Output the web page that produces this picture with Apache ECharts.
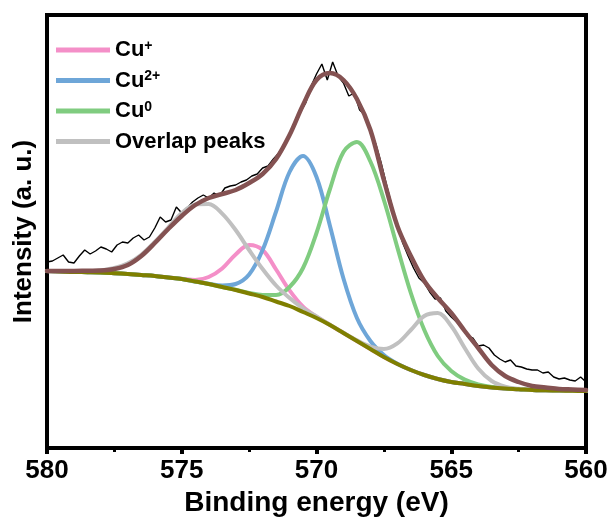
<!DOCTYPE html>
<html>
<head>
<meta charset="utf-8">
<script src="https://cdn.jsdelivr.net/npm/echarts@6/dist/echarts.min.js"></script>
<style>
html,body{margin:0;padding:0;background:#fff;}
#chart{width:612px;height:522px;}
</style>
</head>
<body>
<div id="chart"></div>
<script>
// Cu 2p3/2 region: fitted components on a 0.5 eV grid
const fitEnergy = [580,579.5,579,578.5,578,577.5,577,576.5,576,575.5,575,574.5,574,573.5,573,572.5,572,571.5,571,570.5,570,569.5,569,568.5,568,567.5,567,566.5,566,565.5,565,564.5,564,563.5,563,562.5,562,561.5,561,560.5,560];

const background = [177,176.5,176,175.8,175.5,174.8,174,173,172,170.5,169,166.5,164,161,158,154.5,151,146.5,142,136,130,123,115,107,99,91,84,78,73,69,66,64,62,60.5,59.5,58.8,58,57.7,57.5,57.2,57];

const cuPlus = [177,176.5,176,175.8,175.5,174.8,174,173,172,170.5,169.3,168,171,179.5,193.6,203,198,178.5,157.6,141.3,131.3,123,115,107,99,91,84,78,73,69,66,64,62,60.5,59.5,58.8,58,57.7,57.5,57.2,57];

const cu2Plus = [177,176.5,176,175.8,175.5,174.8,174,173,172,170.5,169,166.5,164.3,162.5,164,173.5,198,236.5,276,292,271,222,169.5,130,107,93,84.2,78,73,69,66,64,62,60.5,59.5,58.8,58,57.7,57.5,57.2,57];

const cuZero = [177,176.5,176,175.8,175.5,174.8,174,173,172,170.5,169,166.5,164,161,158.2,155,153,153,161,180,215,259,296,306,286.5,248,200.6,155,118,92,77,68.4,63.6,61,59.8,58.8,58,57.7,57.5,57.2,57];

const overlapPeaks = [177,176.5,176.5,176.6,177.7,180,184.8,193.3,206,220.5,235,243.5,244,234.4,218,198,179,162.5,150,139.7,131.5,123.3,115.2,107.6,101.4,99,104.6,118,132,135,122,100,79.4,67,61.3,59.2,58,57.7,57.5,57.2,57];

const envelope = [177,177,177,177.3,177.5,179,183,192,205,219,232,243,250,254,258,265,274,289,313,343,368,375,368,349,318,268,222,192,167,150,135,117,100,83,72,66,62,60.5,59,58.5,58];

// measured spectrum, 0.2 eV steps from 580 to 560 eV
const rawEnergy = [];
for (let i = 0; i <= 100; i++) rawEnergy.push(+(580 - i * 0.2).toFixed(1));
const rawCounts = [186,187,190,193,186,185,192,198,194,197,201,199,196,203,206,205,210,213,208,211,220,231,226,228,241,235,240,246,250,253,250,255,252,260,262,263,266,268,272,274,280,282,289,295,303,312,325,336,345,362,374,384,368,386,372,365,352,355,338,333,318,304,285,263,242,222,205,192,180,170,165,156,149,150,137,131,126,120,112,110,102,103,100,93,89,86,88,82,81,79,78,78,75,76,71,69,70,68,67,71,66];

const xTicks = [580,575,570,565,560];

const pair = (xs, ys) => xs.map((x, i) => [x, ys[i]]);

const FONT = 'Liberation Sans, Arial, sans-serif';

const chart = echarts.init(document.getElementById('chart'), null, {renderer: 'canvas'});

function curve(name, data, color, width, z) {
  return {
    name, type: 'line', data, smooth: 0.35, showSymbol: false, symbol: 'none',
    lineStyle: {color, width, cap: 'round', join: 'round'}, itemStyle: {color},
    z, silent: true, animation: false
  };
}

chart.setOption({
  animation: false,
  grid: {left: 47, right: 26, top: 15, bottom: 74, show: true, borderColor: '#000', borderWidth: 4},
  legend: {
    orient: 'vertical', left: 56, top: 39, padding: 0,
    itemWidth: 54, itemHeight: 5, itemGap: 8.5, icon: 'rect',
    data: ['Cu+', 'Cu2+', 'Cu0', 'Overlap peaks'],
    formatter: function (n) {
      if (n === 'Cu+') return 'Cu{s|+}';
      if (n === 'Cu2+') return 'Cu{s|2+}';
      if (n === 'Cu0') return 'Cu{s|0}';
      return n;
    },
    textStyle: {
      fontFamily: FONT, fontWeight: 'bold', fontSize: 22, color: '#000', lineHeight: 22,
      rich: {s: {fontFamily: FONT, fontWeight: 'bold', fontSize: 14, lineHeight: 12, verticalAlign: 'top', color: '#000'}}
    }
  },
  xAxis: {
    type: 'value', min: 560, max: 580, interval: 5, inverse: true,
    name: 'Binding energy (eV)', nameLocation: 'middle', nameGap: 33,
    nameTextStyle: {fontFamily: FONT, fontWeight: 'bold', fontSize: 28, color: '#000'},
    axisLine: {show: true, onZero: false, lineStyle: {color: '#000', width: 4}},
    axisTick: {show: true, inside: false, length: 6, lineStyle: {color: '#000', width: 4}},
    minorTick: {show: true, splitNumber: 2, length: 4, lineStyle: {color: '#000', width: 3}},
    splitLine: {show: false},
    axisLabel: {
      margin: 10, fontFamily: FONT, fontWeight: 'bold', fontSize: 26, color: '#000',
      customValues: xTicks, formatter: v => String(v)
    }
  },
  yAxis: {
    type: 'value', min: 0, max: 433,
    name: 'Intensity (a. u.)', nameLocation: 'middle', nameGap: 10, nameRotate: 90,
    nameTextStyle: {fontFamily: FONT, fontWeight: 'bold', fontSize: 26, color: '#000'},
    axisLine: {show: true, lineStyle: {color: '#000', width: 4}},
    axisTick: {show: false}, axisLabel: {show: false}, splitLine: {show: false}
  },
  series: [
    {
      name: 'Measured', type: 'line', data: pair(rawEnergy, rawCounts), showSymbol: false, symbol: 'none',
      lineStyle: {color: '#000', width: 1.4}, z: 2, silent: true, animation: false
    },
    curve('Cu+', pair(fitEnergy, cuPlus), '#f48fc8', 4, 3),
    curve('Cu2+', pair(fitEnergy, cu2Plus), '#6ea6d8', 4, 4),
    curve('Cu0', pair(fitEnergy, cuZero), '#80cc80', 4, 5),
    curve('Overlap peaks', pair(fitEnergy, overlapPeaks), '#c0c0c0', 4, 6),
    curve('Background', pair(fitEnergy, background), '#7f7f00', 4, 7),
    curve('Envelope', pair(fitEnergy, envelope), '#845252', 4.5, 8)
  ]
});
</script>
</body>
</html>
